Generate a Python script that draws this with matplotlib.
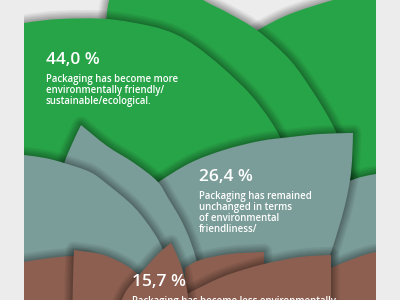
import numpy as np
import matplotlib
matplotlib.use("Agg")
import matplotlib.pyplot as plt
from matplotlib.path import Path
from matplotlib.patches import PathPatch, Rectangle

# ---------------- data ----------------
values = [44.0, 26.4, 15.7]
descriptions = [
    "Packaging has become more\nenvironmentally friendly/\nsustainable/ecological.",
    "Packaging has remained\nunchanged in terms\nof environmental\nfriendliness/",
    "Packaging has become less environmentally",
]
band_colors = ["#28a448", "#7b9d99", "#8c5f50"]
bg_color = "#ececec"

# ---------------- decorative geometry (pixel space, y down) ----------------
petals = [
    # green band (back to front)
    (0, [[(200, 75), (230, 48), (258, 30), (290, 14), (333, 0), (360, -7), (420, -15)],
         [(420, -15), (420, 330)], [(420, 330), (200, 330)], [(200, 330), (200, 75)]]),
    (0, [[(100, 80), (104, 40), (106, 21), (108, 5), (112, -10)],
         [(112, -10), (180, -15)],
         [(180, -15), (203, 0), (230, 14), (258, 31), (290, 60), (313, 92), (330, 120),
          (340, 142), (350, 178), (355, 220)],
         [(355, 220), (355, 330)], [(355, 330), (100, 330)], [(100, 330), (100, 80)]]),
    (0, [[(-10, 30), (24, 23), (60, 19), (107, 19), (150, 26), (175, 34), (197, 47),
          (223, 68), (250, 94), (270, 120), (282, 142), (292, 175), (297, 220)],
         [(297, 220), (297, 330)], [(297, 330), (-10, 330)], [(-10, 330), (-10, 30)]]),
    # grey band
    (1, [[(300, 210), (330, 192), (352, 180), (376, 174), (420, 168)],
         [(420, 168), (420, 330)], [(420, 330), (300, 330)], [(300, 330), (300, 210)]]),
    (1, [[(100, 235), (130, 202), (157, 183), (190, 163), (224, 150), (260, 141),
          (291, 137), (320, 134), (353, 133)],
         [(353, 133), (352, 160), (350, 180), (345, 205), (338, 230), (330, 255),
          (320, 280), (310, 330)],
         [(310, 330), (100, 330)], [(100, 330), (100, 235)]]),
    (1, [[(55, 225), (58, 190), (64, 164), (72, 144), (81, 125)],
         [(81, 125), (107, 146), (134, 163), (157, 181), (168, 198), (181, 220),
          (191, 243), (198, 270), (202, 330)],
         [(202, 330), (55, 330)], [(55, 330), (55, 225)]]),
    (1, [[(-10, 150), (24, 155), (45, 158), (64, 163), (90, 172), (107, 184), (134, 207),
          (154, 233), (164, 253), (170, 280), (172, 330)],
         [(172, 330), (-10, 330)], [(-10, 330), (-10, 150)]]),
    # brown band
    (2, [[(-10, 268), (24, 262), (50, 258), (74, 256), (90, 258), (100, 270)],
         [(100, 270), (100, 330)], [(100, 330), (-10, 330)], [(-10, 330), (-10, 268)]]),
    (2, [[(72, 330), (73, 280), (74, 250)],
         [(74, 250), (100, 254), (118, 261), (134, 271), (146, 285), (152, 300), (158, 330)],
         [(158, 330), (72, 330)]]),
    (2, [[(331, 268), (350, 260), (376, 252), (420, 246)],
         [(420, 246), (420, 330)], [(420, 330), (331, 330)], [(331, 330), (331, 268)]]),
    (2, [[(185, 268), (200, 260), (230, 254), (264, 252)],
         [(264, 252), (265, 330)], [(265, 330), (185, 330)], [(185, 330), (185, 268)]]),
    (2, [[(185, 295), (213, 281), (233, 273), (264, 264), (300, 257), (331, 255)],
         [(331, 255), (331, 330)], [(331, 330), (185, 330)], [(185, 330), (185, 295)]]),
    (2, [[(110, 330), (124, 295), (135, 280), (148, 265), (160, 252), (171, 243)],
         [(171, 243), (179, 260), (184, 276), (188, 297), (190, 330)],
         [(190, 330), (110, 330)]]),
]

label_pos = [(46, 60), (199, 177), (132, 282)]
panel = (24, 376)


def edge_to_bezier(pts):
    pts = [np.array(p, float) for p in pts]
    if len(pts) == 2:
        a, b = pts
        return [a + (b - a) / 3, a + 2 * (b - a) / 3, b]
    ext = [pts[0]] + pts + [pts[-1]]
    out = []
    for i in range(1, len(ext) - 2):
        p0, p1, p2, p3 = ext[i - 1], ext[i], ext[i + 1], ext[i + 2]
        c1 = p1 + (p2 - p0) / 6.0
        c2 = p2 - (p3 - p1) / 6.0
        out += [c1, c2, p2]
    return out


def petal_path(edges):
    verts = [edges[0][0]]
    codes = [Path.MOVETO]
    for e in edges:
        bz = edge_to_bezier(e)
        verts += [tuple(v) for v in bz]
        codes += [Path.CURVE4] * len(bz)
    verts.append(edges[0][0])
    codes.append(Path.CLOSEPOLY)
    return Path(verts, codes)


fig = plt.figure(figsize=(4, 3), dpi=100, facecolor=bg_color)
ax = fig.add_axes([0, 0, 1, 1])
ax.set_xlim(0, 400)
ax.set_ylim(300, 0)
ax.axis("off")
ax.set_facecolor(bg_color)

clip = Rectangle((panel[0], -5), panel[1] - panel[0], 310, transform=ax.transData)

z = 1
for band, edges in petals:
    path = petal_path(edges)
    for lw in [12, 9.5, 7.5, 5.5, 3.5, 2]:
        sh = PathPatch(path, facecolor="none", edgecolor="black", lw=lw, alpha=0.06,
                       joinstyle="round", zorder=z)
        ax.add_patch(sh)
        sh.set_clip_path(clip)
    p = PathPatch(path, facecolor=band_colors[band], edgecolor="none", zorder=z + 0.5)
    ax.add_patch(p)
    p.set_clip_path(clip)
    z += 1

font = ["Open Sans", "DejaVu Sans"]
for v, d, (x, y) in zip(values, descriptions, label_pos):
    ax.text(x, y, f"{v:.1f} %".replace(".", ","), color="white", fontsize=12.5,
            fontweight="semibold", family=font, ha="left", va="center", zorder=100)
    ax.text(x, y + 14, d, color="white", fontsize=6.9, fontweight="semibold", family=font,
            ha="left", va="top", linespacing=1.02, zorder=100)

fig.savefig("out.png", dpi=100, facecolor=bg_color)
